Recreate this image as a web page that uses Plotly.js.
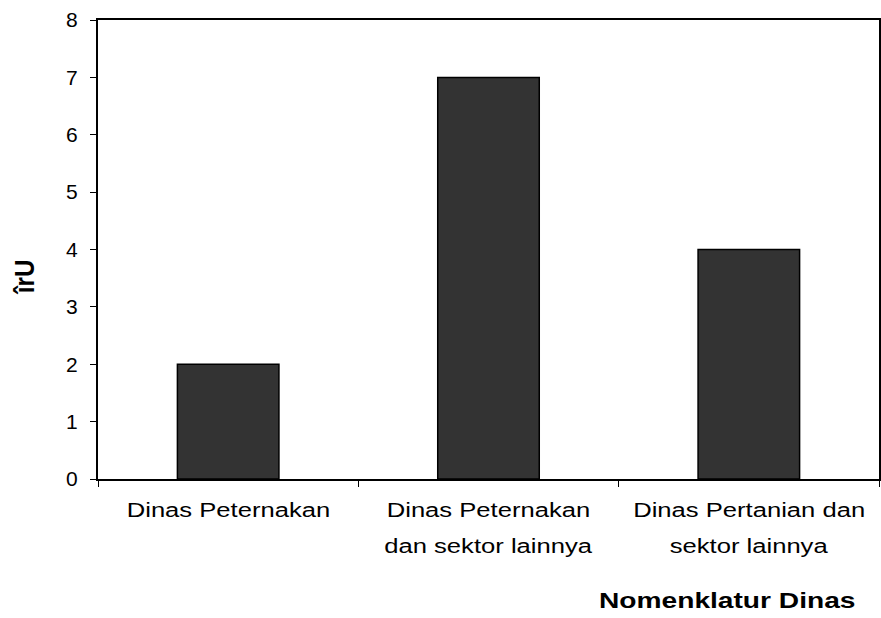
<!DOCTYPE html>
<html><head><meta charset="utf-8">
<script src="https://cdn.plot.ly/plotly-3.0.1.min.js"></script>
<style>html,body{margin:0;padding:0;background:#fff}#c{width:881px;height:618px}
#c .annotation-text{transform-box:fill-box;transform-origin:center;transform:scaleX(1.22)}
#c .annotation[data-index="5"] .annotation-text{transform:scaleX(1.28)}
#c .annotation[data-index="6"] .annotation-text{transform:scaleX(0.9)}
</style>
</head><body><div id="c"></div>
<script>
const categories = ["Dinas Peternakan", "Dinas Peternakan dan sektor lainnya", "Dinas Pertanian dan sektor lainnya"];
const categoryLines = [["Dinas Peternakan"], ["Dinas Peternakan", "dan sektor lainnya"], ["Dinas Pertanian dan", "sektor lainnya"]];
const values = [2, 7, 4];
const yTitle = "îrU";
const xTitle = "Nomenklatur Dinas";

const font = "Liberation Sans, Arial, sans-serif";
const ann = [];
categories.forEach((c, i) => {
  categoryLines[i].forEach((line, j) => {
    ann.push({text: line, xref: "x", yref: "paper", x: c, y: j === 0 ? -0.0675 : -0.1438,
      xanchor: "center", yanchor: "middle", showarrow: false, font: {family: font, size: 21, color: "#000"}});
  });
});
ann.push({
  text: "<b>" + xTitle + "</b>", xref: "paper", yref: "paper",
  x: 0.8055, y: -0.264, xanchor: "center", yanchor: "middle", showarrow: false,
  font: {family: font, size: 22, color: "#000"}
});
ann.push({
  text: "<b>" + yTitle + "</b>", xref: "paper", yref: "paper", textangle: -90,
  x: -0.0935, y: 0.44, xanchor: "center", yanchor: "middle", showarrow: false,
  font: {family: font, size: 27, color: "#000"}
});

Plotly.newPlot("c", [{
  type: "bar", x: categories, y: values,
  marker: {color: "#333333", line: {color: "#000", width: 1.5}},
  width: 0.39, hoverinfo: "none"
}], {
  width: 881, height: 618,
  margin: {l: 98, r: 2, t: 20, b: 139},
  paper_bgcolor: "#fff", plot_bgcolor: "#fff",
  showlegend: false,
  font: {family: font, size: 19, color: "#000"},
  xaxis: {
    type: "category", tickson: "boundaries", ticks: "outside", ticklen: 6,
    tickcolor: "#000", tickwidth: 1, showline: true, linecolor: "#000", linewidth: 2,
    mirror: true, showgrid: false, zeroline: false, range: [-0.5, 2.5],
    showticklabels: false
  },
  yaxis: {
    range: [0, 8], dtick: 1, ticks: "outside", ticklen: 6, tickcolor: "#000",
    showline: true, linecolor: "#000", linewidth: 2, mirror: true,
    showgrid: false, zeroline: false, tickfont: {family: font, size: 21, color: "#000"},
    ticklabelstandoff: 8
  },
  annotations: ann
}, {displayModeBar: false, staticPlot: true});
</script></body></html>
